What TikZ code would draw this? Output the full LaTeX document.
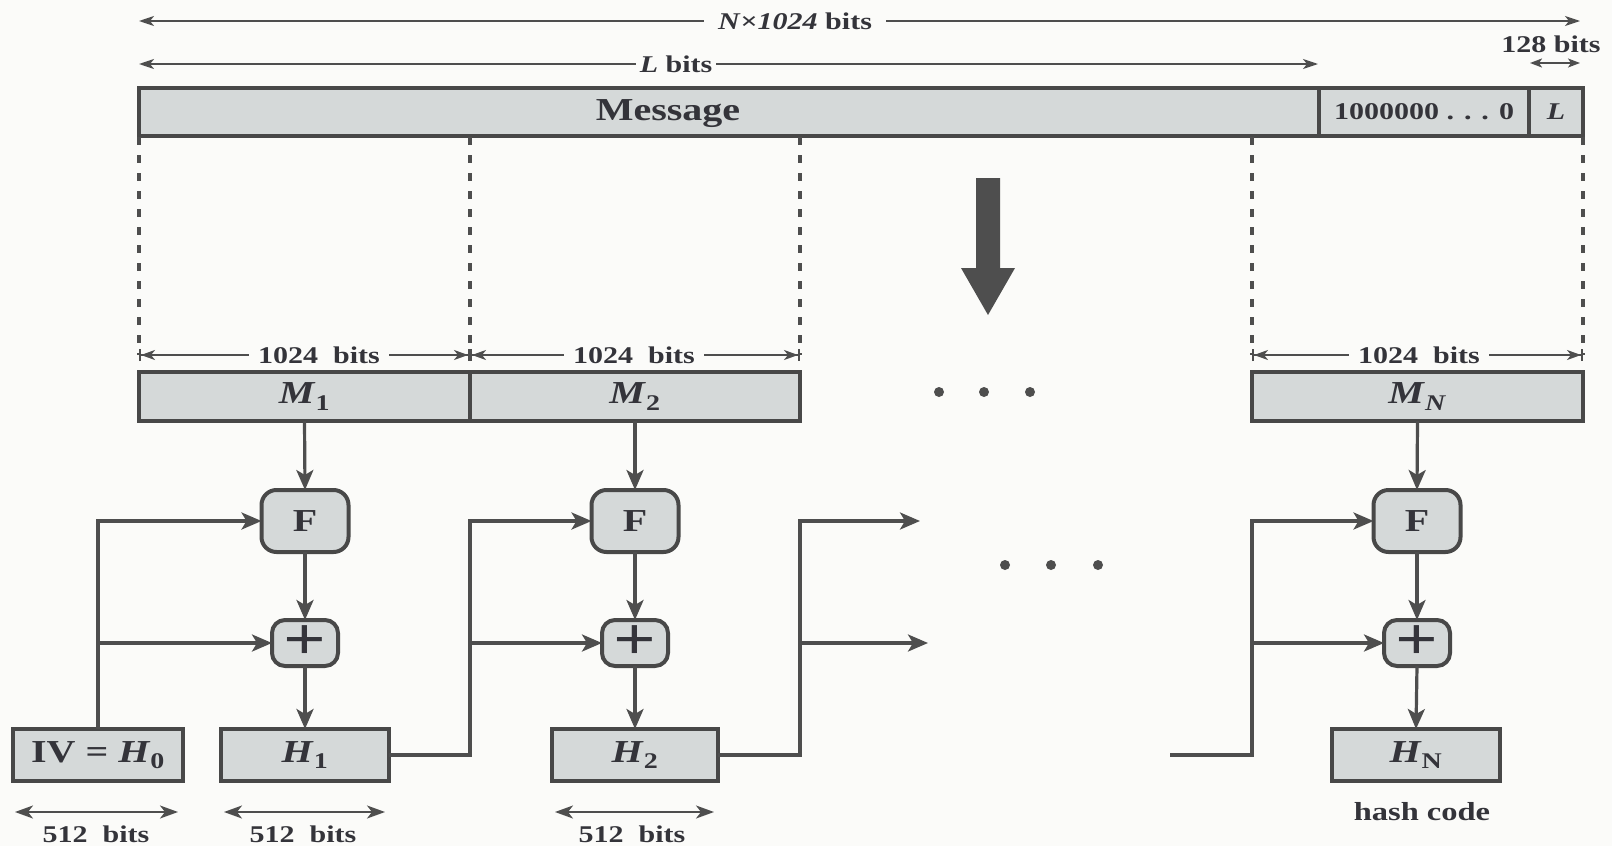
\documentclass[tikz,border=0pt]{standalone}
\usepackage{fontspec}
\setmainfont{Liberation Serif}[FakeStretch=1.25]
\usetikzlibrary{arrows.meta}
\definecolor{bgc}{RGB}{251,251,249}
\definecolor{lc}{RGB}{78,78,78}
\definecolor{bc}{RGB}{72,72,72}
\definecolor{bf}{RGB}{213,217,217}
\definecolor{tc}{RGB}{52,52,58}
\newcommand\bigf{\fontsize{32}{32}\selectfont\bfseries}
\newcommand\smallf{\fontsize{24}{24}\selectfont\bfseries}
\newcommand\midf{\fontsize{26}{26}\selectfont\bfseries}
\newcommand\plusfont{\fontsize{60}{60}\selectfont\bfseries}
\tikzset{
  ln/.style={draw=lc, line width=3.2pt},
  arr/.style={ln, -{Stealth[length=20pt,width=17pt,inset=5pt]}},
  boxx/.style={draw=bc, fill=bf, line width=4pt, inner sep=0pt, outer sep=0pt, text=tc, font=\bigf},
  rbox/.style={boxx, rounded corners=15pt},
  lab/.style={text=tc, font=\smallf, inner sep=0pt},
  dimd/.style={draw=lc, line width=2pt, {Stealth[length=18pt,width=13pt,inset=5pt]}-{Stealth[length=18pt,width=13pt,inset=5pt]}},
  dimt/.style={draw=lc, line width=1.8pt, {Stealth[length=15pt,width=10pt,inset=4pt]}-{Stealth[length=15pt,width=10pt,inset=4pt]}},
  dimb/.style={draw=lc, line width=1.8pt, {Bar[width=12pt,line width=2pt]Stealth[length=14pt,width=10pt,inset=4pt]}-{Stealth[length=14pt,width=10pt,inset=4pt]Bar[width=12pt,line width=2pt]}},
  dotl/.style={draw=lc, line width=4.5pt, dash pattern=on 8pt off 10pt},
  gap/.style={lab, fill=bgc, inner xsep=9pt, inner ysep=2pt},
  plusbox/.style={rbox, rounded corners=13pt, minimum width=66pt, minimum height=46pt, font=\plusfont},
}
\begin{document}
\begin{tikzpicture}[x=1pt,y=-1pt]
\fill[bgc] (0,0) rectangle (1612,846);
\useasboundingbox (0,0) rectangle (1612,846);

% top dimension arrows
\coordinate (nl) at (139,21);
\coordinate (nr) at (1580,21);
\draw[dimt] (nl) -- (nr);
\node[gap, inner xsep=14pt] (ntxt) at (795,21) {\textit{N}×\textit{1024} bits};
\coordinate (ll) at (139,64);
\coordinate (lr) at (1318,64);
\draw[dimt] (ll) -- (lr);
\node[gap, inner xsep=4pt] (ltxt) at (676,64) {\textit{L} bits};
\node[lab] (t128) at (1551,44) {128 bits};
\coordinate (ka) at (1530,63);
\coordinate (kb) at (1580,63);
\draw[draw=lc, line width=1.8pt, {Stealth[length=12pt,width=9pt,inset=3pt]}-{Stealth[length=12pt,width=9pt,inset=3pt]}] (ka) -- (kb);

% message bar
\node[boxx, minimum width=1180pt, minimum height=48pt] (msg) at (729,112) {};
\node[lab, font=\bigf] (msgt) at (668,114) {Message};
\node[boxx, minimum width=210pt, minimum height=48pt, font=\smallf] (pad) at (1424,112) {1000000 . . . 0};
\node[boxx, minimum width=54pt, minimum height=48pt, font=\smallf] (len) at (1556,112) {\textit{L}};

% dotted lines
\foreach \x/\n in {139/a,470/b,800/c,1252/d,1583/e}{
  \coordinate (dt\n) at (\x,137);
  \coordinate (db\n) at (\x,355);
  \draw[dotl] (dt\n) -- (db\n);
}

% big down arrow
\fill[lc] (976,178) -- (1000,178) -- (1000,268) -- (1015,268) -- (988,315) -- (961,268) -- (976,268) -- cycle;

% 1024 bits dimensions
\draw[dimb] (dba) -- (dbb);
\node[gap] (k1) at (319,355) {1024~~bits};
\draw[dimb] (dbb) -- (dbc);
\node[gap] (k2) at (634,355) {1024~~bits};
\draw[dimb] (dbd) -- (dbe);
\node[gap] (k3) at (1419,355) {1024~~bits};

% message blocks
\node[boxx, minimum width=331pt, minimum height=49pt] (m1) at (304.5,396.5) {\textit{M}\textsubscript{1}};
\node[boxx, minimum width=330pt, minimum height=49pt] (m2) at (635,396.5) {\textit{M}\textsubscript{2}};
\node[boxx, minimum width=331pt, minimum height=49pt] (mN) at (1417.5,396.5) {\textit{M}\textsubscript{\textit{N}}};

% dots
\foreach \x in {939,984,1030} \fill[lc] (\x,392) circle (5pt);
\foreach \x in {1005,1051,1098} \fill[lc] (\x,565) circle (5pt);

% F boxes
\node[rbox, minimum width=87pt, minimum height=62pt] (f1) at (305,521) {F};
\node[rbox, minimum width=87pt, minimum height=62pt] (f2) at (635,521) {F};
\node[rbox, minimum width=87pt, minimum height=62pt] (fN) at (1417,521) {F};

% plus boxes
\node[plusbox] (p1) at (305,643) {+};
\node[plusbox] (p2) at (635,643) {+};
\node[plusbox] (pN) at (1417,643) {+};

% H boxes
\node[boxx, minimum width=170pt, minimum height=52pt] (iv) at (98,755) {IV = \textit{H}\textsubscript{0}};
\node[boxx, minimum width=168pt, minimum height=52pt] (h1) at (305,755) {\textit{H}\textsubscript{1}};
\node[boxx, minimum width=166pt, minimum height=52pt] (h2) at (635,755) {\textit{H}\textsubscript{2}};
\node[boxx, minimum width=168pt, minimum height=52pt] (hN) at (1416,755) {\textit{H}\textsubscript{N}};

% vertical flow arrows
\draw[arr] (m1.south) -- (f1.north);
\draw[arr] (f1.south) -- (p1.north);
\draw[arr] (p1.south) -- (h1.north);
\draw[arr] (m2.south) -- (f2.north);
\draw[arr] (f2.south) -- (p2.north);
\draw[arr] (p2.south) -- (h2.north);
\draw[arr] (mN.south) -- (fN.north);
\draw[arr] (fN.south) -- (pN.north);
\draw[arr] (pN.south) -- (hN.north);

% chaining connectors
\draw[arr] (iv.north) |- (f1.west);
\draw[arr] (iv.north |- p1.west) -- (p1.west);

\coordinate (j1) at (470,755);
\draw[arr] (h1.east) -- (j1) |- (f2.west);
\draw[arr] (j1 |- p2.west) -- (p2.west);

\coordinate (j2) at (800,755);
\coordinate (e1) at (920,521);
\coordinate (e2) at (928,643);
\draw[arr] (h2.east) -- (j2) |- (e1);
\draw[arr] (j2 |- e2) -- (e2);

\coordinate (sN) at (1170,755);
\coordinate (jN) at (1252,755);
\draw[arr] (sN) -- (jN) |- (fN.west);
\draw[arr] (jN |- pN.west) -- (pN.west);

% 512 bits dimensions
\coordinate (a1) at (15,812);  \coordinate (a2) at (178,812);
\coordinate (b1) at (224,812); \coordinate (b2) at (385,812);
\coordinate (c1) at (555,812); \coordinate (c2) at (714,812);
\draw[dimd] (a1) -- (a2);
\draw[dimd] (b1) -- (b2);
\draw[dimd] (c1) -- (c2);
\node[lab] (w1) at (96,834) {512~~bits};
\node[lab] (w2) at (303,834) {512~~bits};
\node[lab] (w3) at (632,834) {512~~bits};

\node[lab, font=\midf] (hc) at (1422,812) {hash code};
\end{tikzpicture}
\end{document}
